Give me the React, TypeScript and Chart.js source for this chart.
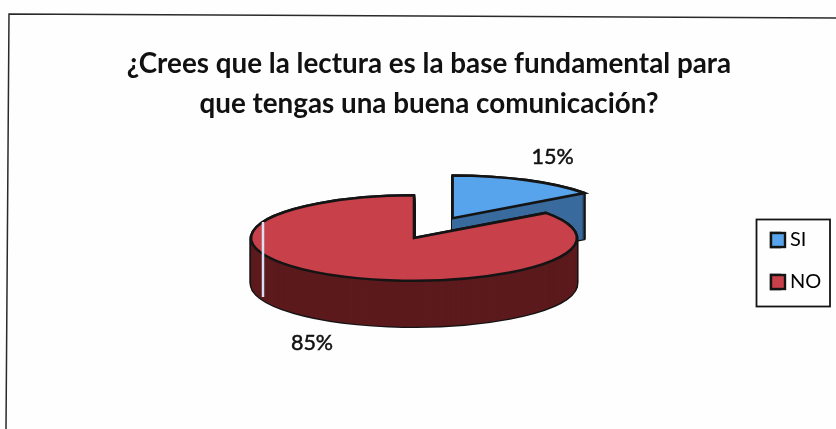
import React, { useEffect, useRef } from "react";
import { Chart, registerables } from "chart.js";

Chart.register(...registerables);

const categories = ["SI", "NO"];
const values = [15, 85];
const explode = [85, 0];
const topColors = ["#57A4EC", "#C8404A"];
const sideColors = ["#3A6B9E", "#5C1A1D"];
const titleLines = [
  "¿Crees que la lectura es la base fundamental para",
  "que tengas una buena comunicación?",
];

const SQUASH = 0.262;
const DEPTH = 46;
const INK = "#141414";
const PIE_CENTER = { x: 414, y: 238 };
const LABEL_SHIFT = [
  { x: 26, y: -23 },
  { x: -28, y: 67 },
];
const LEGEND_FONT = 20;
const LEGEND_PAD = 22;
const SWATCH = 14;

// an arc's position on the flattened plane
function flatArc(arc: any) {
  return {
    cx: arc.x,
    cy: PIE_CENTER.y + (arc.y - PIE_CENTER.y) * SQUASH,
    rx: arc.outerRadius,
    ry: arc.outerRadius * SQUASH,
    mid: (arc.startAngle + arc.endAngle) / 2,
    start: arc.startAngle,
    end: arc.endAngle,
  };
}

function wedge(ctx: CanvasRenderingContext2D, f: any, dy: number) {
  ctx.beginPath();
  ctx.moveTo(f.cx, f.cy + dy);
  ctx.ellipse(f.cx, f.cy + dy, f.rx, f.ry, 0, f.start, f.end);
  ctx.closePath();
}

const pie3d = {
  id: "pie3d",
  beforeDraw(chart: any) {
    const { ctx, width, height } = chart;
    ctx.save();
    ctx.fillStyle = "#FEFEFE";
    ctx.fillRect(0, 0, width, height);
    ctx.strokeStyle = "#2A2A2A";
    ctx.lineWidth = 1.5;
    ctx.beginPath();
    ctx.moveTo(836, 18);
    ctx.lineTo(9, 14);
    ctx.lineTo(6, 429);
    ctx.stroke();
    ctx.restore();
  },
  afterLayout(chart: any) {
    const a = chart.chartArea;
    a.left = 0;
    a.right = PIE_CENTER.x * 2;
    a.width = a.right - a.left;
    a.top = PIE_CENTER.y * 2 - chart.height;
    a.bottom = chart.height;
    a.height = a.bottom - a.top;
    const l = chart.legend;
    l.left = 749;
    l.right = 836;
    l.top = 208;
    l.bottom = 429;
    l.width = l.right - l.left;
    l.height = l.bottom - l.top;
  },
  afterDatasetsUpdate(chart: any) {
    chart.getDatasetMeta(0).data.forEach((arc: any, i: number) => {
      const mid = (arc.startAngle + arc.endAngle) / 2;
      arc.x += Math.cos(mid) * explode[i];
      arc.y += Math.sin(mid) * explode[i];
    });
  },
  beforeDatasetsDraw(chart: any) {
    const { ctx } = chart;
    const arcs = chart.getDatasetMeta(0).data;
    arcs.forEach((arc: any, i: number) => {
      const f = flatArc(arc);
      ctx.save();
      ctx.strokeStyle = INK;
      ctx.lineWidth = 2.6;
      ctx.lineJoin = "round";
      for (let dy = DEPTH; dy >= 0; dy -= 1) {
        wedge(ctx, f, dy);
        ctx.stroke();
      }
      ctx.fillStyle = sideColors[i];
      for (let dy = DEPTH; dy >= 0; dy -= 1) {
        wedge(ctx, f, dy);
        ctx.fill();
      }
      ctx.restore();
    });
    ctx.save();
    ctx.translate(PIE_CENTER.x, PIE_CENTER.y);
    ctx.scale(1, SQUASH);
    ctx.translate(-PIE_CENTER.x, -PIE_CENTER.y);
  },
  afterDatasetsDraw(chart: any) {
    const { ctx } = chart;
    ctx.restore();
    const arcs = chart.getDatasetMeta(0).data;
    const total = values.reduce((s, v) => s + v, 0);
    arcs.forEach((arc: any, i: number) => {
      const f = flatArc(arc);
      ctx.save();
      ctx.strokeStyle = INK;
      ctx.lineWidth = 2.6;
      ctx.lineJoin = "miter";
      wedge(ctx, f, 0);
      ctx.stroke();
      const text = `${Math.round((values[i] / total) * 100)}%`;
      const x = f.cx + Math.cos(f.mid) * f.rx + LABEL_SHIFT[i].x;
      const y = f.cy + Math.sin(f.mid) * f.ry + LABEL_SHIFT[i].y;
      ctx.fillStyle = "#111111";
      ctx.strokeStyle = "#111111";
      ctx.lineWidth = 0.5;
      ctx.font = "21.5px Lato";
      ctx.textAlign = "center";
      ctx.textBaseline = "middle";
      ctx.fillText(text, x, y);
      ctx.strokeText(text, x, y);
      ctx.restore();
    });
    // scanner streak across the red slice
    ctx.save();
    ctx.strokeStyle = "#D6E2F2";
    ctx.lineWidth = 2.5;
    ctx.beginPath();
    ctx.moveTo(PIE_CENTER.x - 151, PIE_CENTER.y - 16);
    ctx.lineTo(PIE_CENTER.x - 151, PIE_CENTER.y + 59);
    ctx.stroke();
    ctx.restore();
  },
  afterDraw(chart: any) {
    const { ctx } = chart;
    const l = chart.legend;
    ctx.save();
    ctx.strokeStyle = INK;
    ctx.lineWidth = 1.8;
    ctx.strokeRect(756.5, 219.5, 73.5, 87);
    // full-width legend swatches over the library's narrow ones
    ctx.lineWidth = 2.4;
    categories.forEach((_, i) => {
      const x = l.left + LEGEND_PAD;
      const y = l.top + LEGEND_PAD + i * (LEGEND_FONT + LEGEND_PAD) + (LEGEND_FONT - SWATCH) / 2;
      ctx.fillStyle = topColors[i];
      ctx.fillRect(x, y, SWATCH, SWATCH);
      ctx.strokeRect(x, y, SWATCH, SWATCH);
    });
    ctx.restore();
  },
};

export default function App() {
  const ref = useRef<HTMLCanvasElement | null>(null);
  useEffect(() => {
    if (!ref.current) return;
    const chart = new Chart(ref.current, {
      type: "pie",
      data: {
        labels: categories,
        datasets: [
          {
            data: values,
            backgroundColor: topColors,
            borderWidth: 0,
            clip: false,
          } as any,
        ],
      },
      options: {
        responsive: false,
        animation: false,
        radius: 163,
        rotation: 0,
        layout: { padding: { left: 22, top: 44.5 } },
        plugins: {
          tooltip: { enabled: false },
          title: {
            display: true,
            text: titleLines,
            color: "#111111",
            font: { family: "Lato", size: 27.8, weight: "bold", lineHeight: 39.5 / 27.8 },
            padding: { top: 0, bottom: 10 },
          },
          legend: {
            display: true,
            position: "right",
            align: "start",
            labels: {
              boxWidth: 9,
              boxHeight: SWATCH,
              padding: LEGEND_PAD,
              color: "#111111",
              font: { family: "Lato", size: LEGEND_FONT },
              generateLabels: () =>
                categories.map((text, i) => ({
                  text,
                  fillStyle: topColors[i],
                  strokeStyle: INK,
                  lineWidth: 2.4,
                  hidden: false,
                  index: i,
                })),
            },
          },
        },
      } as any,
      plugins: [pie3d],
    });
    return () => chart.destroy();
  }, []);
  return (
    <div style={{ position: "fixed", left: 0, top: 0, width: 836, height: 429 }}>
      <canvas ref={ref} width={836} height={429} style={{ display: "block" }} />
    </div>
  );
}
